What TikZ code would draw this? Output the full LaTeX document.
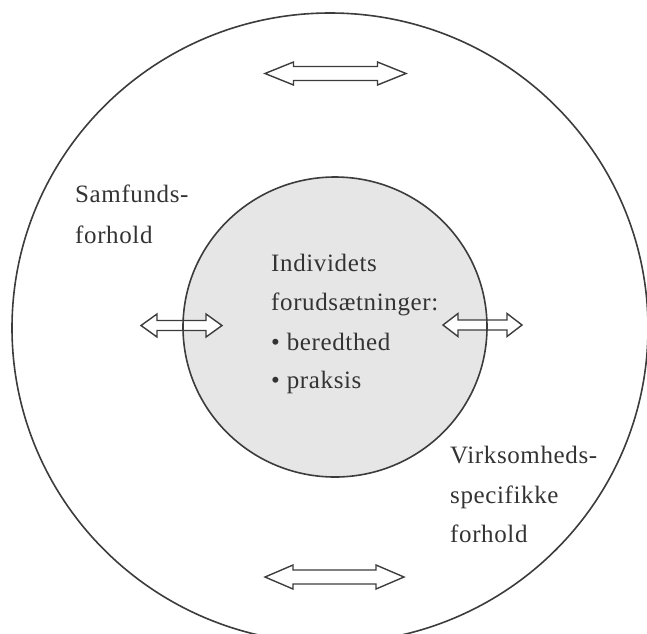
\documentclass[tikz,border=0pt]{standalone}
\usepackage{fontspec}
\setmainfont{Liberation Serif}[LetterSpace=2.5]
\definecolor{inkline}{HTML}{3C3C3C}
\definecolor{inktext}{HTML}{333333}
\definecolor{corefill}{HTML}{E6E6E6}
% two-headed outline arrow: centre x, centre y, half length, head length, head half width, shaft half width
\newcommand{\twoway}[6]{%
  \draw[twowayline] ({#1-#3},#2) -- ++(#4,-#5) -- ++(0,{#5-#6}) -- ++({2*#3-2*#4},0)
    -- ++(0,{#6-#5}) -- ++(#4,#5) -- ++(-#4,#5) -- ++(0,{#6-#5})
    -- ++({2*#4-2*#3},0) -- ++(0,{#5-#6}) -- cycle;}
\begin{document}
\begin{tikzpicture}[x=1pt,y=-1pt,
  ring/.style={draw=inkline,line width=1.6pt},
  twowayline/.style={draw=inkline,line width=1.4pt,fill=white,line join=miter},
  label/.style={anchor=base west,inner sep=0pt,text=inktext,font=\fontsize{25}{30}\selectfont}]
\useasboundingbox (0,0) rectangle (647,633);
% outer context and inner individual circle
\draw[ring] (330,328) ellipse [x radius=318,y radius=315];
\fill[corefill] (335,327) ellipse [x radius=152,y radius=150];
% exchange arrows
\twoway{335.5}{73.5}{70.5}{28.5}{11.5}{7}
\twoway{334.5}{577}{69.5}{28}{12}{7}
\twoway{181.5}{325.5}{40.5}{16}{11.5}{5}
\twoway{482.5}{325}{39.5}{15}{11.5}{5}
\draw[ring] (335,327) ellipse [x radius=152,y radius=150];
% texts
\node[label] (samf1) at (75,202) {Samfunds-};
\node[label] (samf2) at (75,243) {forhold};
\node[label] (ind1) at (271,271) {Individets};
\node[label] (ind2) at (271,310) {forudsætninger:};
\node[label] (ind3) at (271,350) {• beredthed};
\node[label] (ind4) at (271,388) {• praksis};
\node[label] (virk1) at (450,463) {Virksomheds-};
\node[label] (virk2) at (450,503) {specifikke};
\node[label] (virk3) at (450,542) {forhold};
\end{tikzpicture}
\end{document}
